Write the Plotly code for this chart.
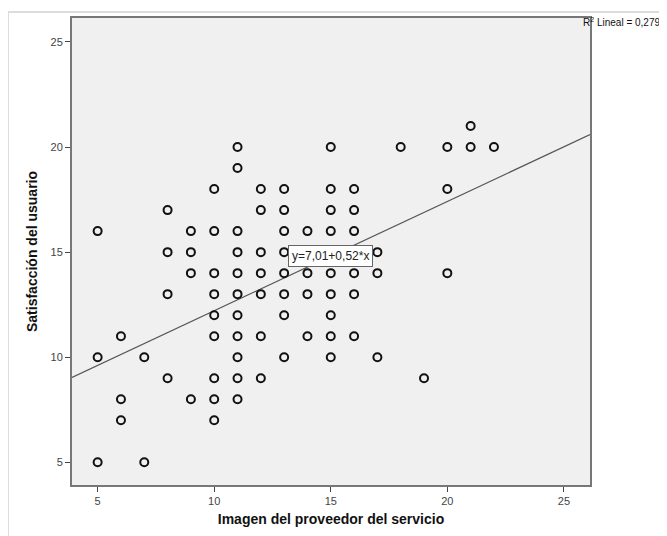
import plotly.graph_objects as go

# Data
imagen = [5, 5, 5,
          6, 6, 6,
          7, 7,
          8, 8, 8, 8,
          9, 9, 9, 9,
          10, 10, 10, 10, 10, 10, 10, 10, 10,
          11, 11, 11, 11, 11, 11, 11, 11, 11, 11, 11,
          12, 12, 12, 12, 12, 12, 12,
          13, 13, 13, 13, 13, 13, 13, 13,
          14, 14, 14, 14, 14,
          15, 15, 15, 15, 15, 15, 15, 15, 15, 15,
          16, 16, 16, 16, 16, 16, 16,
          17, 17, 17,
          18,
          19,
          20, 20, 20,
          21, 21,
          22]
satisfaccion = [16, 10, 5,
                11, 8, 7,
                10, 5,
                17, 15, 13, 9,
                16, 15, 14, 8,
                18, 16, 14, 13, 12, 11, 9, 8, 7,
                20, 19, 16, 15, 14, 13, 12, 11, 10, 9, 8,
                18, 17, 15, 14, 13, 11, 9,
                18, 17, 16, 15, 14, 13, 12, 10,
                16, 15, 14, 13, 11,
                20, 18, 17, 16, 15, 14, 13, 12, 11, 10,
                18, 17, 16, 15, 14, 13, 11,
                15, 14, 10,
                20,
                9,
                20, 18, 14,
                21, 20,
                20]

intercepto = 7.01
pendiente = 0.52
r2 = "0,279"
ecuacion = "y=7,01+0,52*x"
x_rango = [3.9, 26.12]
y_rango = [3.92, 26.14]
ticks = [5, 10, 15, 20, 25]

linea_x = x_rango
linea_y = [intercepto + pendiente * v for v in linea_x]

fig = go.Figure()
fig.add_trace(go.Scatter(
    x=linea_x, y=linea_y, mode="lines",
    line=dict(color="#555555", width=1.2),
    hoverinfo="skip", showlegend=False,
))
fig.add_trace(go.Scatter(
    x=imagen, y=satisfaccion, mode="markers",
    marker=dict(symbol="circle-open", size=8, color="#111111",
                line=dict(width=2, color="#111111")),
    showlegend=False,
))

fig.add_annotation(
    x=15, y=intercepto + pendiente * 15, xref="x", yref="y",
    text=ecuacion, showarrow=False,
    font=dict(family="Liberation Sans, Arial", size=12, color="#222222"),
    bgcolor="white", bordercolor="#666666", borderwidth=1, borderpad=3,
)
fig.add_annotation(
    x=1.0, y=1.0, xref="paper", yref="paper", xanchor="left", yanchor="top",
    xshift=-8, yshift=3, borderpad=0,
    text="R<sup>2</sup> Lineal = " + r2, showarrow=False,
    font=dict(family="Liberation Sans, Arial", size=10, color="#111111"),
)

# light outer frame of the SPSS canvas
fig.add_shape(type="rect", xref="paper", yref="paper",
              x0=-0.1235, x1=3, y0=-3, y1=1.013,
              line=dict(color="#dcdcdc", width=2), layer="below")

axis_common = dict(
    tickvals=ticks, ticks="outside", ticklen=5, tickwidth=1,
    tickcolor="#444444", showgrid=False, zeroline=False,
    showline=True, linecolor="#777777", linewidth=2, mirror=True,
    tickfont=dict(family="Liberation Sans, Arial", size=11, color="#444444"),
    title_font=dict(family="Liberation Sans, Arial", size=14, color="#111111"),
)

fig.update_xaxes(**axis_common, range=x_rango,
                 title_text="<b>Imagen del proveedor del servicio</b>",
                 title_standoff=8)
fig.update_yaxes(**axis_common, range=y_rango,
                 title_text="<b>Satisfacción del usuario</b>",
                 title_standoff=10)

# the page body has an 8px margin: shrink the figure so the plot area
# lands where the reference has it inside the 667x536 window
fig.update_layout(
    width=659, height=528,
    margin=dict(l=64, r=77, t=8, b=51),
    plot_bgcolor="#f0f0f0", paper_bgcolor="white",
    font=dict(family="Liberation Sans, Arial"),
)

fig.write_html("out.html")
